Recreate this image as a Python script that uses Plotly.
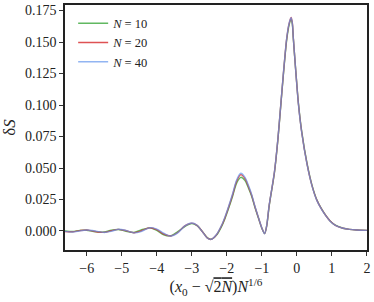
import plotly.graph_objects as go

x_vals = [-6.62, -6.4, -6.2, -6.0, -5.8, -5.5, -5.3, -5.1, -4.9, -4.65, -4.45, -4.2, -4.0,
          -3.8, -3.6, -3.4, -3.2, -3.0, -2.85, -2.7, -2.55, -2.45, -2.3, -2.15, -2.05,
          -1.95, -1.83, -1.72, -1.6, -1.48, -1.38, -1.29, -1.2, -1.1, -1.0, -0.92, -0.86,
          -0.79, -0.64, -0.54, -0.46, -0.38, -0.29, -0.22, -0.163, -0.13, -0.10, -0.03,
          0.046, 0.14, 0.29, 0.43, 0.57, 0.71, 0.83, 0.95, 1.1, 1.32, 1.5, 1.71, 2.0]

ds_n10 = [0.0000, -0.0004, 0.0005, 0.0006, -0.0004, -0.0008, 0.0006, 0.0012, 0.0000, -0.0012,
          0.0008, 0.0025, 0.0005, -0.0030, -0.0038, -0.0005, 0.0035, 0.0058, 0.0042, -0.0003,
          -0.0055, -0.0066, -0.0035, 0.0035, 0.0100, 0.0178, 0.0280, 0.0380, 0.0426, 0.0400,
          0.0340, 0.0275, 0.0190, 0.0105, 0.0022, -0.0020, 0.0040, 0.0198, 0.0462, 0.0728,
          0.0992, 0.1255, 0.1515, 0.1636, 0.1680, 0.1645, 0.1525, 0.1268, 0.1012, 0.0788,
          0.0538, 0.0366, 0.0248, 0.0173, 0.0122, 0.0080, 0.0046, 0.0022, 0.0013, 0.0008, 0.0005]

ds_n20 = [-0.0005, -0.0006, 0.0003, 0.0008, -0.0002, -0.0011, 0.0002, 0.0013, 0.0004, -0.0014,
          0.0000, 0.0026, 0.0011, -0.0024, -0.0040, -0.0012, 0.0040, 0.0062, 0.0044, -0.0004,
          -0.0057, -0.0067, -0.0032, 0.0041, 0.0108, 0.0188, 0.0292, 0.0395, 0.0447, 0.0415,
          0.0352, 0.0284, 0.0196, 0.0108, 0.0024, -0.0021, 0.0043, 0.0203, 0.0467, 0.0733,
          0.0997, 0.1262, 0.1527, 0.1648, 0.1695, 0.1655, 0.1530, 0.1266, 0.1006, 0.0782,
          0.0532, 0.0362, 0.0245, 0.0171, 0.0121, 0.0079, 0.0045, 0.0022, 0.0013, 0.0008, 0.0005]

ds_n40 = [-0.0003, -0.0008, 0.0000, 0.0008, 0.0002, -0.0012, -0.0003, 0.0013, 0.0006, -0.0015,
          -0.0005, 0.0026, 0.0015, -0.0018, -0.0040, -0.0015, 0.0040, 0.0063, 0.0045, -0.0005,
          -0.0058, -0.0067, -0.0030, 0.0045, 0.0114, 0.0195, 0.0300, 0.0405, 0.0458, 0.0425,
          0.0360, 0.0290, 0.0200, 0.0110, 0.0025, -0.0022, 0.0045, 0.0206, 0.0470, 0.0736,
          0.1000, 0.1265, 0.1530, 0.1650, 0.1693, 0.1652, 0.1530, 0.1265, 0.1003, 0.0780,
          0.0530, 0.0360, 0.0243, 0.0170, 0.0120, 0.0078, 0.0045, 0.0022, 0.0013, 0.0008, 0.0005]

series_names = ["<i>N</i> = 10", "<i>N</i> = 20", "<i>N</i> = 40"]
series_vals = [ds_n10, ds_n20, ds_n40]
series_colors = ["rgba(44,160,44,0.75)", "rgba(214,39,40,0.8)", "rgba(100,149,237,0.7)"]

x_ticks = [-6, -5, -4, -3, -2, -1, 0, 1, 2]
y_ticks = [0.0, 0.025, 0.05, 0.075, 0.1, 0.125, 0.15, 0.175]

fig = go.Figure()
for name, vals, col in zip(series_names, series_vals, series_colors):
    fig.add_trace(go.Scatter(x=x_vals, y=vals, mode="lines", name=name,
                             line=dict(color=col, width=1.4, shape="spline", smoothing=0.8)))

serif = "Liberation Serif"
fig.update_layout(
    width=374, height=302,
    margin=dict(l=65, r=7, t=5, b=52, autoexpand=False),
    plot_bgcolor="white", paper_bgcolor="white",
    font=dict(family=serif, size=14, color="#222"),
    showlegend=True,
    legend=dict(x=0.027, y=0.985, xanchor="left", yanchor="top",
                bgcolor="rgba(255,255,255,0)", font=dict(family=serif, size=12.5),
                tracegroupgap=0, itemwidth=30),
    xaxis=dict(range=[-6.62, 2.003], tickvals=x_ticks, ticks="outside", ticklen=4,
               tickcolor="#333", showline=True, linecolor="#222", linewidth=1.5,
               mirror=True, showgrid=False, zeroline=False, automargin=False,
               title=dict(text="(<i>x</i><sub>0</sub> − √<span style=\"text-decoration:overline\">2<i>N</i></span>)<i>N</i><sup>1/6</sup>",
                          font=dict(size=16), standoff=6)),
    yaxis=dict(range=[-0.0151, 0.1794], tickvals=y_ticks, tickformat=".3f",
               ticks="outside", ticklen=4, tickcolor="#333", showline=True,
               linecolor="#222", linewidth=1.5, mirror=True, showgrid=False,
               zeroline=False, automargin=False,
               title=dict(text="δ<i>S</i>", font=dict(size=17), standoff=6)),
)

fig.write_html("out.html", config={"displayModeBar": False},
               post_script="document.body.style.margin='0';document.body.style.overflow='hidden';")
